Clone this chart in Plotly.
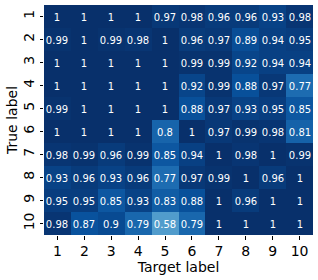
import plotly.graph_objects as go

labels = ["1", "2", "3", "4", "5", "6", "7", "8", "9", "10"]
values = [
    [1, 1, 1, 1, 0.97, 0.98, 0.96, 0.96, 0.93, 0.98],
    [0.99, 1, 0.99, 0.98, 1, 0.96, 0.97, 0.89, 0.94, 0.95],
    [1, 1, 1, 1, 1, 0.99, 0.99, 0.92, 0.94, 0.94],
    [1, 1, 1, 1, 1, 0.92, 0.99, 0.88, 0.97, 0.77],
    [0.99, 1, 1, 1, 1, 0.88, 0.97, 0.93, 0.95, 0.85],
    [1, 1, 1, 1, 0.8, 1, 0.97, 0.99, 0.98, 0.81],
    [0.98, 0.99, 0.96, 0.99, 0.85, 0.94, 1, 0.98, 1, 0.99],
    [0.93, 0.96, 0.93, 0.96, 0.77, 0.97, 0.99, 1, 0.96, 1],
    [0.95, 0.95, 0.85, 0.93, 0.83, 0.88, 1, 0.96, 1, 1],
    [0.98, 0.87, 0.9, 0.79, 0.58, 0.79, 1, 1, 1, 1],
]
text = [[("%g" % v) for v in row] for row in values]

blues = [
    [0.0, "#f7fbff"], [0.125, "#deebf7"], [0.25, "#c6dbef"], [0.375, "#9ecae1"],
    [0.5, "#6baed6"], [0.625, "#4292c6"], [0.75, "#2171b5"], [0.875, "#08519c"],
    [1.0, "#08306b"],
]

fig = go.Figure(go.Heatmap(
    z=values, x=labels, y=labels, text=text, texttemplate="%{text}",
    textfont=dict(family="DejaVu Sans", size=10, color="white"),
    colorscale=blues, zmin=0, zmax=1, showscale=False, hoverinfo="skip",
))

font = dict(family="DejaVu Sans", size=14, color="black")
fig.update_layout(
    width=318, height=280,
    margin=dict(l=44, r=5, t=5, b=45),
    plot_bgcolor="white", paper_bgcolor="white",
    font=font,
    xaxis=dict(title=dict(text="Target label", font=font, standoff=0),
               ticks="outside", ticklen=3.5, tickcolor="black",
               tickfont=font, showgrid=False, zeroline=False),
    yaxis=dict(title=dict(text="True label", font=font, standoff=0),
               autorange="reversed", ticks="outside", ticklen=3.5, tickcolor="black",
               tickfont=font, tickangle=-90, showgrid=False, zeroline=False),
)
fig.write_html("out.html", config={"displayModeBar": False},
               post_script="document.body.style.margin='0';document.body.style.padding='0';")
